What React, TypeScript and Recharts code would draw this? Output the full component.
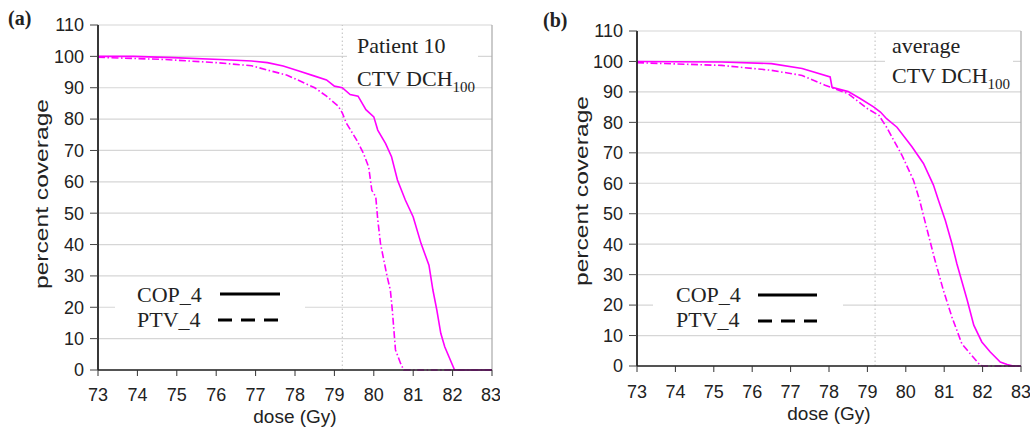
import { LineChart, Line, XAxis, YAxis, CartesianGrid, ReferenceLine } from "recharts";

const DOSE_TICKS = [73, 74, 75, 76, 77, 78, 79, 80, 81, 82, 83];
const COVERAGE_TICKS = [0, 10, 20, 30, 40, 50, 60, 70, 80, 90, 100, 110];
const PRESCRIPTION_DOSE = 79.2;

// panel (a): patient 10
const doseA_cop = [73.0, 73.9, 74.9, 76.1, 76.9, 77.3, 77.7, 78.1, 78.5, 78.8, 79.0, 79.2, 79.4, 79.6, 79.8, 80.0, 80.1, 80.3, 80.45, 80.6, 80.8, 81.0, 81.2, 81.4, 81.5, 81.6, 81.7, 81.8, 82.05, 83.0];
const covA_cop = [100, 100, 99.6, 99.0, 98.5, 98.0, 96.9, 95.3, 93.7, 92.5, 90.5, 90.0, 87.8, 87.3, 83.0, 80.7, 76.5, 72.2, 68.0, 60.6, 54.2, 48.8, 40.3, 33.4, 25.5, 19.1, 11.7, 7.4, 0, 0];
const doseA_ptv = [73.0, 74.7, 76.0, 76.9, 77.4, 77.8, 78.5, 78.8, 79.1, 79.2, 79.3, 79.57, 79.74, 79.87, 79.95, 80.05, 80.1, 80.17, 80.34, 80.42, 80.47, 80.55, 80.68, 80.76, 83.0];
const covA_ptv = [99.7, 99.0, 98.0, 97.0, 95.3, 94.0, 90.0, 87.3, 84.1, 82.0, 78.8, 73.2, 69.0, 64.7, 57.3, 55.2, 48.0, 40.3, 29.7, 25.5, 19.1, 6.4, 2.1, 0, 0];

// panel (b): average
const doseB_cop = [73.0, 74.0, 75.2, 76.5, 77.3, 78.03, 78.08, 78.5, 78.8, 79.16, 79.34, 79.5, 79.77, 80.16, 80.46, 80.72, 80.85, 81.03, 81.2, 81.33, 81.5, 81.6, 81.77, 81.98, 82.2, 82.46, 82.64, 82.8, 83.0];
const covB_cop = [100, 99.9, 99.8, 99.3, 97.7, 94.9, 91.5, 90.1, 87.9, 85.1, 83.4, 81.2, 78.4, 72.0, 66.5, 59.4, 54.4, 47.8, 40.2, 33.6, 26.0, 21.6, 13.4, 7.9, 4.6, 1.3, 0.5, 0, 0];
const doseB_ptv = [73.0, 75.2, 76.5, 77.3, 77.9, 78.5, 79.0, 79.3, 79.5, 79.9, 80.2, 80.36, 80.58, 80.76, 80.98, 81.2, 81.46, 81.68, 81.94, 82.0, 83.0];
const covB_ptv = [99.6, 98.7, 97.1, 95.4, 92.2, 89.4, 84.5, 82.3, 78.4, 69.2, 61.0, 54.4, 43.5, 34.7, 24.8, 16.1, 7.3, 4.0, 0.2, 0, 0];

const zip = (dose: number[], cov: number[]) => dose.map((d, i) => ({ dose: d, cov: cov[i] }));

const MAGENTA = "#ff00ff";
const SANS = "'Liberation Sans', Arial, sans-serif";
const SERIF = "'Liberation Serif', 'Times New Roman', serif";

type PanelProps = {
  left: number;
  width: number;
  plotTop: number;
  plotRight: number;
  yAxisWidth: number;
  xAxisHeight: number;
  xTickMargin: number;
  xLabelOffset: number;
  yLabelX: number;
  yLabelY: number;
  cop: { dose: number; cov: number }[];
  ptv: { dose: number; cov: number }[];
};

function DvhPanel(p: PanelProps) {
  const tick = { fontSize: 18, fill: "#222", fontFamily: SANS };
  return (
    <div style={{ position: "absolute", left: p.left, top: 0 }}>
      <LineChart
        width={p.width}
        height={427}
        margin={{ top: p.plotTop, right: p.width - p.plotRight, left: 0, bottom: 0 }}
      >
        <CartesianGrid vertical={false} stroke="#d6d6d6" strokeWidth={1.2} />
        <XAxis
          type="number"
          dataKey="dose"
          domain={[73, 83]}
          ticks={DOSE_TICKS}
          allowDataOverflow
          height={p.xAxisHeight}
          tickSize={6}
          tickMargin={p.xTickMargin}
          tick={tick}
          axisLine={{ stroke: "#222", strokeWidth: 1.5 }}
          tickLine={{ stroke: "#333" }}
          label={{
            value: "dose (Gy)",
            position: "insideBottom",
            offset: p.xLabelOffset,
            style: { fontSize: 19, fill: "#222", fontFamily: SANS },
          }}
        />
        <YAxis
          type="number"
          domain={[0, 110]}
          ticks={COVERAGE_TICKS}
          width={p.yAxisWidth}
          tickSize={8}
          tickMargin={6}
          tick={tick}
          axisLine={{ stroke: "#222", strokeWidth: 1.8 }}
          tickLine={{ stroke: "#444" }}
          label={() => (
            <text
              x={p.yLabelX}
              y={p.yLabelY}
              transform={`rotate(-90 ${p.yLabelX} ${p.yLabelY})`}
              textAnchor="middle"
              fontSize={18}
              fill="#222"
              fontFamily={SANS}
              textLength={190}
              lengthAdjust="spacingAndGlyphs"
            >
              percent coverage
            </text>
          )}
        />
        <ReferenceLine x={PRESCRIPTION_DOSE} stroke="#bdbdbd" strokeDasharray="1.5 2.5" />
        <ReferenceLine x={83} stroke="#a8a8a8" strokeWidth={1.2} />
        <Line
          data={p.cop}
          dataKey="cov"
          type="linear"
          stroke={MAGENTA}
          strokeWidth={1.6}
          dot={false}
          isAnimationActive={false}
        />
        <Line
          data={p.ptv}
          dataKey="cov"
          type="linear"
          stroke={MAGENTA}
          strokeWidth={1.6}
          strokeDasharray="7 2.5 1.5 2.5"
          dot={false}
          isAnimationActive={false}
        />
      </LineChart>
    </div>
  );
}

function Annotations() {
  const serif = { fontFamily: SERIF, fill: "#222" };
  return (
    <svg
      width={1030}
      height={427}
      style={{ position: "absolute", left: 0, top: 0, pointerEvents: "none" }}
    >
      <text x={8} y={25} fontSize={20} fontWeight="bold" {...serif}>(a)</text>
      <text x={543} y={27} fontSize={20} fontWeight="bold" {...serif}>(b)</text>

      <rect x={347} y={30} width={131} height={55} fill="#fff" />
      <text x={357} y={53} fontSize={22} {...serif}>Patient 10</text>
      <text x={357} y={86} fontSize={22} {...serif}>
        CTV DCH<tspan fontSize={15} dy={6}>100</tspan>
      </text>

      <rect x={885} y={34} width={128} height={54} fill="#fff" />
      <text x={892} y={53} fontSize={22} {...serif}>average</text>
      <text x={892} y={83} fontSize={22} {...serif}>
        CTV DCH<tspan fontSize={15} dy={6}>100</tspan>
      </text>

      <rect x={115} y={280} width={190} height={52} fill="#fff" />
      <text x={137} y={302} fontSize={22} {...serif}>COP_4</text>
      <text x={137} y={327} fontSize={22} {...serif}>PTV_4</text>
      <line x1={220} x2={280} y1={294} y2={294} stroke="#000" strokeWidth={3} />
      <line x1={218} x2={278} y1={320} y2={320} stroke="#000" strokeWidth={3} strokeDasharray="14 9" />

      <rect x={653} y={280} width={190} height={50} fill="#fff" />
      <text x={676} y={302} fontSize={22} {...serif}>COP_4</text>
      <text x={676} y={327} fontSize={22} {...serif}>PTV_4</text>
      <line x1={758} x2={817} y1={295} y2={295} stroke="#000" strokeWidth={3} />
      <line x1={758} x2={817} y1={321} y2={321} stroke="#000" strokeWidth={3} strokeDasharray="14 9" />
    </svg>
  );
}

export default function App() {
  return (
    <div style={{ position: "absolute", left: 0, top: 0, width: 1030, height: 427, background: "#fff" }}>
      <DvhPanel
        left={0}
        width={500}
        plotTop={25}
        plotRight={492}
        yAxisWidth={98}
        xAxisHeight={57}
        xTickMargin={12}
        xLabelOffset={4}
        yLabelX={48}
        yLabelY={194}
        cop={zip(doseA_cop, covA_cop)}
        ptv={zip(doseA_ptv, covA_ptv)}
      />
      <DvhPanel
        left={520}
        width={510}
        plotTop={31}
        plotRight={501}
        yAxisWidth={117}
        xAxisHeight={61}
        xTickMargin={13}
        xLabelOffset={7}
        yLabelX={68}
        yLabelY={191}
        cop={zip(doseB_cop, covB_cop)}
        ptv={zip(doseB_ptv, covB_ptv)}
      />
      <Annotations />
    </div>
  );
}
